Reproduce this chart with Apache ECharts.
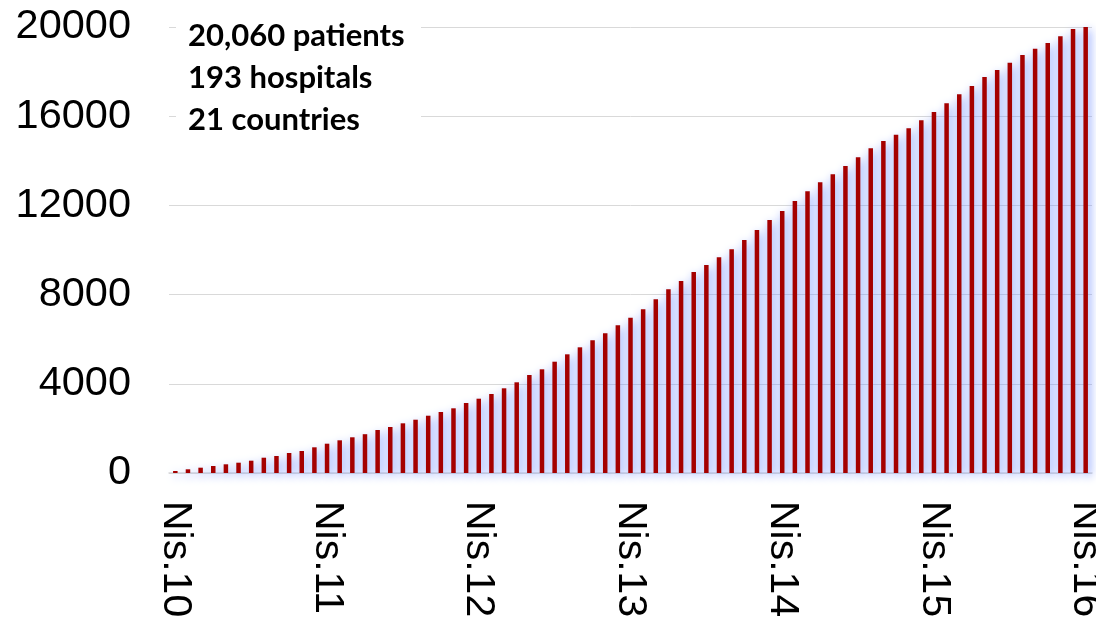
<!DOCTYPE html>
<html>
<head>
<meta charset="utf-8">
<script src="https://cdn.jsdelivr.net/npm/echarts@6/dist/echarts.min.js"></script>
<style>
  html, body { margin: 0; padding: 0; background: #fff; }
  #chart { width: 1096px; height: 625px; }
</style>
</head>
<body>
<div id="chart"></div>
<script>
// monthly categories, Nis.10 .. Nis.16 (labels shown once a year)
var months = [
  'Nis.10','May.10','Haz.10','Tem.10','Ağu.10','Eyl.10','Eki.10','Kas.10','Ara.10','Oca.11','Şub.11','Mar.11',
  'Nis.11','May.11','Haz.11','Tem.11','Ağu.11','Eyl.11','Eki.11','Kas.11','Ara.11','Oca.12','Şub.12','Mar.12',
  'Nis.12','May.12','Haz.12','Tem.12','Ağu.12','Eyl.12','Eki.12','Kas.12','Ara.12','Oca.13','Şub.13','Mar.13',
  'Nis.13','May.13','Haz.13','Tem.13','Ağu.13','Eyl.13','Eki.13','Kas.13','Ara.13','Oca.14','Şub.14','Mar.14',
  'Nis.14','May.14','Haz.14','Tem.14','Ağu.14','Eyl.14','Eki.14','Kas.14','Ara.14','Oca.15','Şub.15','Mar.15',
  'Nis.15','May.15','Haz.15','Tem.15','Ağu.15','Eyl.15','Eki.15','Kas.15','Ara.15','Oca.16','Şub.16','Mar.16',
  'Nis.16'
];

// cumulative patients
var patients = [
  90, 166, 238, 314, 390, 462, 552, 686, 762, 897, 986, 1152,
  1314, 1466, 1601, 1740, 1928, 2063, 2228, 2390, 2569, 2735, 2901, 3139,
  3332, 3542, 3798, 4067, 4394, 4650, 4991, 5322, 5636, 5950, 6264, 6623,
  6964, 7340, 7789, 8237, 8609, 9013, 9327, 9672, 10031, 10448, 10896, 11345,
  11748, 12196, 12631, 13035, 13394, 13766, 14156, 14560, 14887, 15170, 15456, 15820,
  16187, 16577, 16981, 17353, 17757, 18071, 18398, 18743, 19026, 19281, 19582, 19909,
  20060
];

var yTicks = { min: 0, max: 20000, interval: 4000 };

var notes = ['20,060 patients', '193 hospitals', '21 countries'];

var chart = echarts.init(document.getElementById('chart'));

chart.setOption({
  backgroundColor: '#fff',
  animation: false,
  grid: {
    left: 169,
    right: 4,
    top: 27,
    bottom: 152,
    outerBoundsMode: 'none'
  },
  xAxis: {
    type: 'category',
    data: months,
    boundaryGap: true,
    axisLine: {
      lineStyle: { color: '#d9d9d9', width: 1.5 }
    },
    axisTick: {
      interval: 11,
      length: 14,
      lineStyle: { color: '#d9d9d9', width: 1.5 }
    },
    axisLabel: {
      interval: 11,
      rotate: -90,
      margin: 28,
      color: '#000',
      fontSize: 41,
      fontFamily: 'Liberation Sans'
    }
  },
  yAxis: {
    type: 'value',
    min: yTicks.min,
    max: yTicks.max,
    interval: yTicks.interval,
    axisLine: { show: false },
    axisTick: { show: false },
    axisLabel: {
      margin: 38,
      color: '#000',
      fontSize: 41.5,
      fontFamily: 'Liberation Sans',
      formatter: function (v) { return String(v); }
    },
    splitLine: {
      lineStyle: { color: '#d9d9d9', width: 1 }
    }
  },
  series: [{
    type: 'bar',
    data: patients,
    barWidth: 4.5,
    itemStyle: {
      color: '#a50000',
      shadowColor: 'rgba(110,140,255,0.95)',
      shadowBlur: 10,
      shadowOffsetX: 2,
      shadowOffsetY: 3
    }
  }],
  graphic: [{
    type: 'rect',
    left: 176,
    top: 8,
    shape: { width: 245, height: 135 },
    style: { fill: '#fff' },
    z: 100
  }].concat(notes.map(function (t, i) {
    return {
      type: 'text',
      left: 188,
      top: 20 + i * 42,
      z: 101,
      style: {
        text: t,
        fill: '#000',
        font: 'bold 31px Lato'
      }
    };
  }))
});
</script>
</body>
</html>
